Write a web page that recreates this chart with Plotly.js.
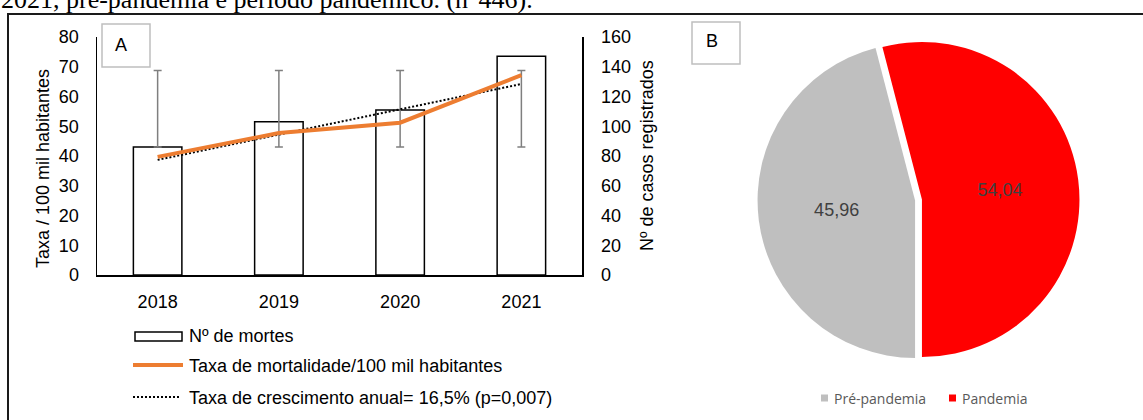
<!DOCTYPE html>
<html>
<head>
<meta charset="utf-8">
<script src="https://cdn.plot.ly/plotly-3.0.1.min.js"></script>
<style>
  html, body { margin: 0; padding: 0; background: #ffffff; }
  #chart { width: 1143px; height: 420px; }
</style>
</head>
<body>
<div id="chart"></div>
<script>
// Panel A: deaths per year (bars) and mortality rate per 100k inhabitants
const years = ['2018', '2019', '2020', '2021'];
const deaths = [86, 103, 111, 147];
const mortalityRate = [39.7, 47.7, 51.2, 67.2];
const growthTrend = [38.7, 47.2, 55.7, 64.2];

// Panel B: share of deaths by period (%)
const periodLabels = ['Pré-pandemia', 'Pandemia'];
const periodShares = [45.96, 54.04];
const periodColors = ['#bfbfbf', '#ff0000'];

const W = 1143, H = 420;
const px = v => v / W;          // pixel x -> paper x
const py = v => 1 - v / H;      // pixel y -> paper y
const SANS = 'Liberation Sans, Arial, sans-serif';

// Standard-deviation error bars centred on the mean of the deaths series
const meanDeaths = deaths.reduce((a, b) => a + b, 0) / deaths.length;
const sdDeaths = Math.sqrt(deaths.reduce((a, d) => a + (d - meanDeaths) ** 2, 0) / (deaths.length - 1));

const traces = [
  {
    type: 'bar', x: years, y: deaths, yaxis: 'y', width: 0.4,
    marker: { color: '#ffffff', line: { color: '#000000', width: 1.5 } },
    hoverinfo: 'x+y', showlegend: false
  },
  {
    type: 'scatter', mode: 'markers', x: years, y: years.map(() => meanDeaths), yaxis: 'y',
    marker: { size: 1, opacity: 0 },
    error_y: { type: 'data', array: years.map(() => sdDeaths), visible: true,
               color: '#7f7f7f', thickness: 1.5, width: 4 },
    hoverinfo: 'skip', showlegend: false
  },
  {
    type: 'scatter', mode: 'lines', x: years, y: growthTrend, yaxis: 'y2',
    line: { color: '#000000', width: 2, dash: '2px,2px' },
    hoverinfo: 'skip', showlegend: false
  },
  {
    type: 'scatter', mode: 'lines', x: years, y: mortalityRate, yaxis: 'y2',
    line: { color: '#ed7d31', width: 4 },
    showlegend: false
  },
  {
    type: 'pie', labels: periodLabels, values: periodShares,
    marker: { colors: periodColors, line: { width: 0 } },
    sort: false, direction: 'clockwise', rotation: 180,
    pull: [0.022, 0.022],
    texttemplate: '%{value:.2f}', textposition: 'inside',
    insidetextorientation: 'horizontal',
    textfont: { family: SANS, size: 18, color: '#404040' },
    domain: { x: [0.6627, 0.9445], y: [0.1405, 0.9071] },
    showlegend: false, hoverinfo: 'label+value'
  }
];

const axisCommon = {
  showgrid: false, zeroline: false, showline: true,
  linecolor: '#000000', linewidth: 1.5,
  ticks: 'outside', tickcolor: 'rgba(0,0,0,0)',
  tickfont: { family: SANS, size: 18, color: '#000000' },
  fixedrange: true
};

const shapes = [
  // outer frame
  { type: 'line', xref: 'paper', yref: 'paper', x0: px(7), x1: px(1143), y0: py(14), y1: py(14),
    line: { color: '#1a1a1a', width: 2 } },
  { type: 'line', xref: 'paper', yref: 'paper', x0: px(8), x1: px(8), y0: py(14), y1: py(420),
    line: { color: '#1a1a1a', width: 2 } },
  // panel tags
  { type: 'rect', xref: 'paper', yref: 'paper', x0: px(102), x1: px(150), y0: py(24), y1: py(67),
    line: { color: '#bfbfbf', width: 1.5 }, fillcolor: '#ffffff' },
  { type: 'rect', xref: 'paper', yref: 'paper', x0: px(692), x1: px(740), y0: py(22), y1: py(64),
    line: { color: '#bfbfbf', width: 1.5 }, fillcolor: '#ffffff' },
  // legend keys, panel A
  { type: 'rect', xref: 'paper', yref: 'paper', x0: px(135), x1: px(182), y0: py(332), y1: py(341),
    line: { color: '#000000', width: 1.5 }, fillcolor: '#ffffff' },
  { type: 'line', xref: 'paper', yref: 'paper', x0: px(133), x1: px(183), y0: py(365), y1: py(365),
    line: { color: '#ed7d31', width: 4 } },
  { type: 'line', xref: 'paper', yref: 'paper', x0: px(133), x1: px(180), y0: py(397), y1: py(397),
    line: { color: '#000000', width: 2, dash: '2px,2px' } },
  // legend keys, panel B
  { type: 'rect', xref: 'paper', yref: 'paper', x0: px(821), x1: px(828), y0: py(394.5), y1: py(401.5),
    line: { width: 0 }, fillcolor: periodColors[0] },
  { type: 'rect', xref: 'paper', yref: 'paper', x0: px(949), x1: px(956), y0: py(394.5), y1: py(401.5),
    line: { width: 0 }, fillcolor: periodColors[1] }
];

const txt = (text, x, y, opts = {}) => Object.assign({
  text, xref: 'paper', yref: 'paper', x: px(x), y: py(y), showarrow: false,
  xanchor: 'left', yanchor: 'middle',
  font: { family: SANS, size: 18, color: '#000000' }
}, opts);

const annotations = [
  txt('2021, pré-pandemia e período pandêmico. (n°446).', -1, -1,
      { font: { family: 'Liberation Serif, Times New Roman, serif', size: 26, color: '#000000' } }),
  txt('A', 121, 45, { xanchor: 'center' }),
  txt('B', 712, 41, { xanchor: 'center' }),
  txt('Taxa / 100 mil habitantes', 43, 169, { xanchor: 'center', textangle: -90 }),
  txt('Nº de casos registrados', 647, 156, { xanchor: 'center', textangle: -90 }),
  txt('Nº de mortes', 187, 336),
  txt('Taxa de mortalidade/100 mil habitantes', 187, 366),
  txt('Taxa de crescimento anual= 16,5% (p=0,007)', 187, 398),
  txt(periodLabels[0], 832, 398, { font: { family: 'Open Sans, sans-serif', size: 14, color: '#595959' } }),
  txt(periodLabels[1], 960, 398, { font: { family: 'Open Sans, sans-serif', size: 14, color: '#595959' } })
];

const layout = {
  width: W, height: H,
  margin: { l: 0, r: 0, t: 0, b: 0, pad: 0 },
  paper_bgcolor: '#ffffff', plot_bgcolor: 'rgba(0,0,0,0)',
  separators: ',.',
  showlegend: false,
  xaxis: Object.assign({}, axisCommon, {
    type: 'category', domain: [px(97), px(582)], range: [-0.5, 3.5],
    anchor: 'y', ticklen: 10
  }),
  yaxis: Object.assign({}, axisCommon, {
    domain: [py(275), py(37)], range: [0, 160], dtick: 20,
    side: 'right', anchor: 'x', ticklen: 14
  }),
  yaxis2: Object.assign({}, axisCommon, {
    range: [0, 80], dtick: 10, side: 'left', overlaying: 'y', anchor: 'x', ticklen: 13
  }),
  shapes, annotations
};

Plotly.newPlot('chart', traces, layout, { displayModeBar: false, staticPlot: true });
</script>
</body>
</html>
